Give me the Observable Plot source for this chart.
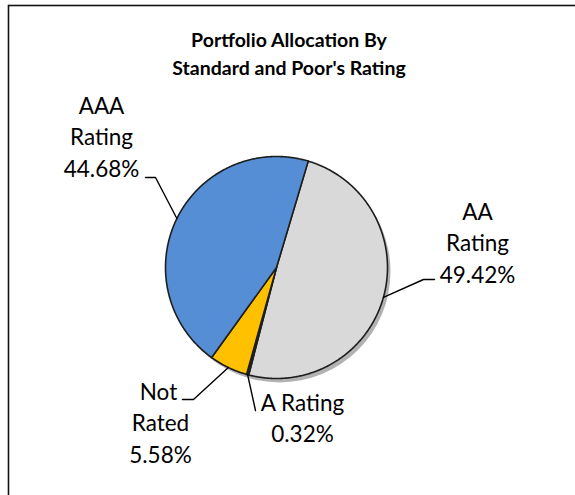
<!DOCTYPE html>
<html>
<head>
<meta charset="utf-8">
<script src="https://cdn.jsdelivr.net/npm/d3@7"></script>
<script src="https://cdn.jsdelivr.net/npm/@observablehq/plot@0.6"></script>
<style>
  html, body { margin: 0; padding: 0; background: #fff; }
  #chart { width: 575px; height: 495px; overflow: hidden; }
</style>
</head>
<body>
<div id="chart"></div>
<script>
// ---- data ----
const titleLines = ["Portfolio Allocation By", "Standard and Poor's Rating"];
const categories = ["AA Rating", "A Rating", "Not Rated", "AAA Rating"];
const labelNames = [["AA", "Rating"], ["A Rating"], ["Not", "Rated"], ["AAA", "Rating"]];
const shares = [49.42, 0.32, 5.58, 44.68];
const colors = ["#D9D9D9", "#2B2616", "#FFC000", "#558ED5"];

// ---- layout (pixels) ----
const W = 575, H = 495;
const cx = 276, cy = 267, R = 111;
const startDeg = 16.6;
const labelLayout = [
  {x: 477, y: 212, elbow: [[423, 279], [434, 279]]},
  {x: 302, y: 403, elbow: [[255, 410]]},
  {x: 160, y: 392, elbow: [[193, 399], [182, 399]]},
  {x: 101, y: 106, elbow: [[155, 177], [145, 177]]}
];
const lineStep = 31.5;

const total = d3.sum(shares);
let acc = startDeg;
const slices = shares.map((v, i) => {
  const a0 = acc, a1 = acc + v / total * 360;
  acc = a1;
  return {i, cat: categories[i], v, a0, a1, mid: (a0 + a1) / 2};
});
const pt = (deg, r) => {
  const t = deg * Math.PI / 180;
  return [cx + r * Math.sin(t), cy - r * Math.cos(t)];
};

// slice polygons
const slicePts = slices.map(s => {
  const n = Math.max(2, Math.ceil((s.a1 - s.a0) / 0.5));
  const pts = [[cx, cy]];
  for (let k = 0; k <= n; k++) pts.push(pt(s.a0 + (s.a1 - s.a0) * k / n, R));
  pts.push([cx, cy]);
  return pts.map(p => ({x: p[0], y: p[1], cat: s.cat}));
});

// leader lines
const leaders = slices.flatMap(s => {
  const L = labelLayout[s.i];
  const pts = [pt(s.mid, R), ...L.elbow];
  return pts.map(p => ({x: p[0], y: p[1], cat: s.cat}));
});

// label text rows
const labelRows = slices.flatMap(s => {
  const L = labelLayout[s.i];
  const lines = [...labelNames[s.i], s.v.toFixed(2) + "%"];
  return lines.map((t, k) => ({x: L.x + (s.cat === "Not Rated" && k === 0 ? -2 : 0), y: L.y + k * lineStep, text: t}));
});

const font = "Lato, 'Open Sans', sans-serif";

const marks = [
  Plot.frame({stroke: "#111", strokeWidth: 1.6, insetLeft: 8, insetTop: 5, insetRight: -10, insetBottom: -10}),
  Plot.text(titleLines, {
    text: d => d,
    x: () => W / 2 + 1,
    y: (d, i) => 40 + i * 28,
    fontWeight: "bold", fontSize: 19.5, fill: "#000", fontFamily: font
  }),
  Plot.dot([{x: cx, y: cy}], {x: "x", y: "y", r: R, fill: "#000", fillOpacity: 0.3, stroke: "none", dx: 3, dy: 4, ariaLabel: "shadow"}),
  ...slicePts.map((pts, i) => Plot.line(pts, {
    x: "x", y: "y", fill: colors[i], stroke: "#1e1e1e", strokeWidth: 1.6, strokeLinejoin: "round", curve: "linear"
  })),
  Plot.line(leaders, {x: "x", y: "y", z: "cat", stroke: "#000", strokeWidth: 1.4, fill: "none"}),
  Plot.text(labelRows, {x: "x", y: "y", text: "text", fontSize: 22.5, fill: "#000", fontFamily: font, textAnchor: "middle"})
];

const chart = Plot.plot({
  width: W, height: H,
  margin: 0,
  x: {domain: [0, W], range: [0, W], axis: null},
  y: {domain: [0, H], range: [0, H], axis: null},
  style: {background: "#fff", overflow: "visible"},
  marks
});

// blur the shadow
const svg = chart.tagName.toLowerCase() === "svg" ? chart : chart.querySelector("svg");
const defs = document.createElementNS("http://www.w3.org/2000/svg", "defs");
defs.innerHTML = '<filter id="pieShadow" x="-30%" y="-30%" width="160%" height="160%"><feGaussianBlur stdDeviation="4"/></filter>';
svg.insertBefore(defs, svg.firstChild);
const sh = svg.querySelector('g[aria-label="shadow"]');
if (sh) sh.setAttribute("filter", "url(#pieShadow)");

document.getElementById("chart").appendChild(chart);
</script>
</body>
</html>
